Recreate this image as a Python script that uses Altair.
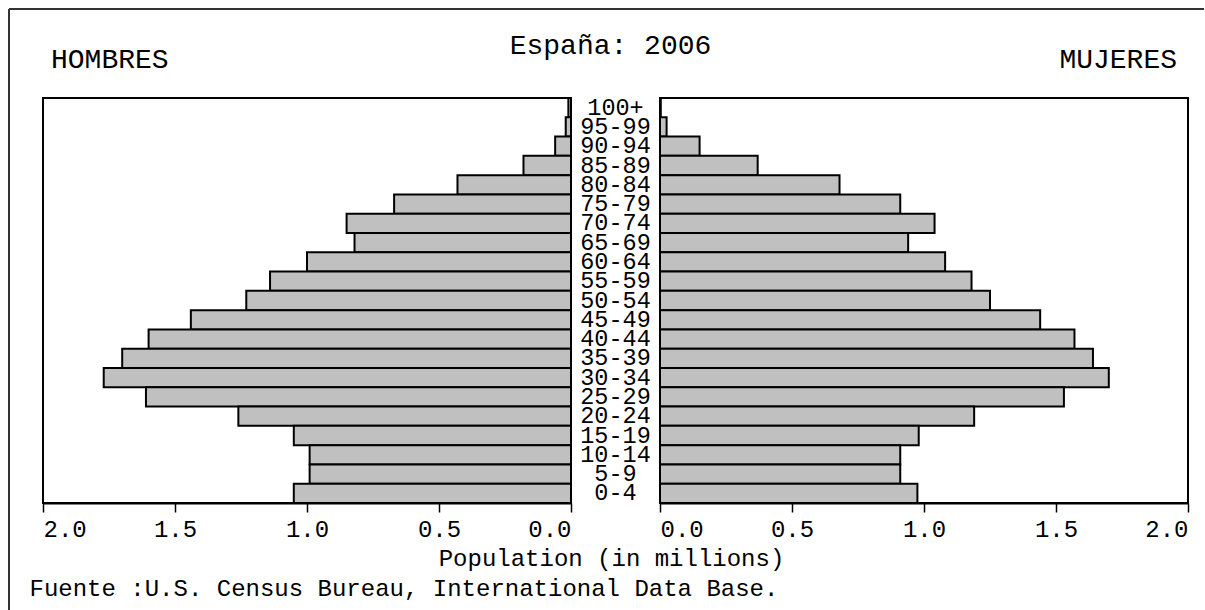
import altair as alt
import pandas as pd

# ---- data (millions), top row first ----
ages = ["100+", "95-99", "90-94", "85-89", "80-84", "75-79", "70-74", "65-69",
        "60-64", "55-59", "50-54", "45-49", "40-44", "35-39", "30-34", "25-29",
        "20-24", "15-19", "10-14", "5-9", "0-4"]
male = [0.01, 0.02, 0.06, 0.18, 0.43, 0.67, 0.85, 0.82, 1.00, 1.14, 1.23,
        1.44, 1.60, 1.70, 1.77, 1.61, 1.26, 1.05, 0.99, 0.99, 1.05]
female = [0.003, 0.025, 0.15, 0.37, 0.68, 0.91, 1.04, 0.94, 1.08, 1.18, 1.25,
          1.44, 1.57, 1.64, 1.70, 1.53, 1.19, 0.98, 0.91, 0.91, 0.975]
tick_values = [0.0, 0.5, 1.0, 1.5, 2.0]

df = pd.DataFrame({"age": ages, "male": male, "female": female})

FONT = "Liberation Mono"
PW, PH, GAP, MARGIN = 528, 405, 89, 34
FRAME = "#333333"

yenc = alt.Y("age:N", sort=ages, axis=None,
             scale=alt.Scale(paddingInner=0, paddingOuter=0))


def ttl(text, anchor, dx, offset):
    return alt.TitleParams(text=text, anchor=anchor, frame="group", dx=dx,
                           offset=offset, font=FONT, fontSize=28,
                           fontWeight="normal", color="black",
                           baseline="alphabetic")


axis_common = dict(values=tick_values, format=".1f", labelFont=FONT,
                   labelFontSize=24, labelColor="black", labelPadding=5,
                   tickSize=9, tickWidth=1.5, tickColor="black",
                   domainColor="black", domainWidth=2, grid=False,
                   titleFont=FONT, titleFontSize=24, titleFontWeight="normal",
                   titleColor="black", titleBaseline="alphabetic",
                   titleAngle=0)

bar_style = dict(fill="#c0c0c0", stroke="black", strokeWidth=2)

left = alt.Chart(df).mark_bar(**bar_style).encode(
    x=alt.X("male:Q",
            scale=alt.Scale(domain=[0, 2], reverse=True, nice=False),
            axis=alt.Axis(title="Fuente :U.S. Census Bureau, International Data Base.",
                          titleX=-14, titleY=92, titleAlign="left",
                          **axis_common)),
    y=yenc,
).properties(width=PW, height=PH, title=ttl("HOMBRES", "start", 8, 1))

center = alt.Chart(df).mark_text(font=FONT, fontSize=23.5, color="black",
                                 baseline="middle", align="center").encode(
    y=yenc,
    text="age:N",
).properties(width=GAP, height=PH,
             view=alt.ViewBackground(stroke="transparent"),
             title=ttl("España: 2006", "middle", -5, 14))

right = alt.Chart(df).mark_bar(**bar_style).encode(
    x=alt.X("female:Q",
            scale=alt.Scale(domain=[0, 2], nice=False),
            axis=alt.Axis(title="Population (in millions)",
                          titleX=-49, titleY=62, titleAlign="center",
                          **axis_common)),
    y=yenc,
).properties(width=PW, height=PH, title=ttl("MUJERES", "end", -11, 1))

# outer frame (decoration only), drawn in a left margin cell
fdf = pd.DataFrame({"k": [0]})
frame_v = alt.Chart(fdf).mark_rule(color=FRAME, strokeWidth=2).encode(
    x=alt.value(0), y=alt.value(-89), y2=alt.value(512))
frame_h = alt.Chart(fdf).mark_rule(color=FRAME, strokeWidth=2).encode(
    x=alt.value(0), x2=alt.value(1197), y=alt.value(-89))
frame = alt.layer(frame_v, frame_h).properties(
    width=MARGIN, height=PH, view=alt.ViewBackground(stroke="transparent"))

chart = alt.hconcat(frame, left, center, right, spacing=0, bounds="flush").properties(
    padding={"left": 7, "top": 7, "right": -4, "bottom": 0},
    background="white",
).configure_view(stroke="black", strokeWidth=2)

chart.save("out.html", embed_options={"renderer": "svg", "actions": False})
